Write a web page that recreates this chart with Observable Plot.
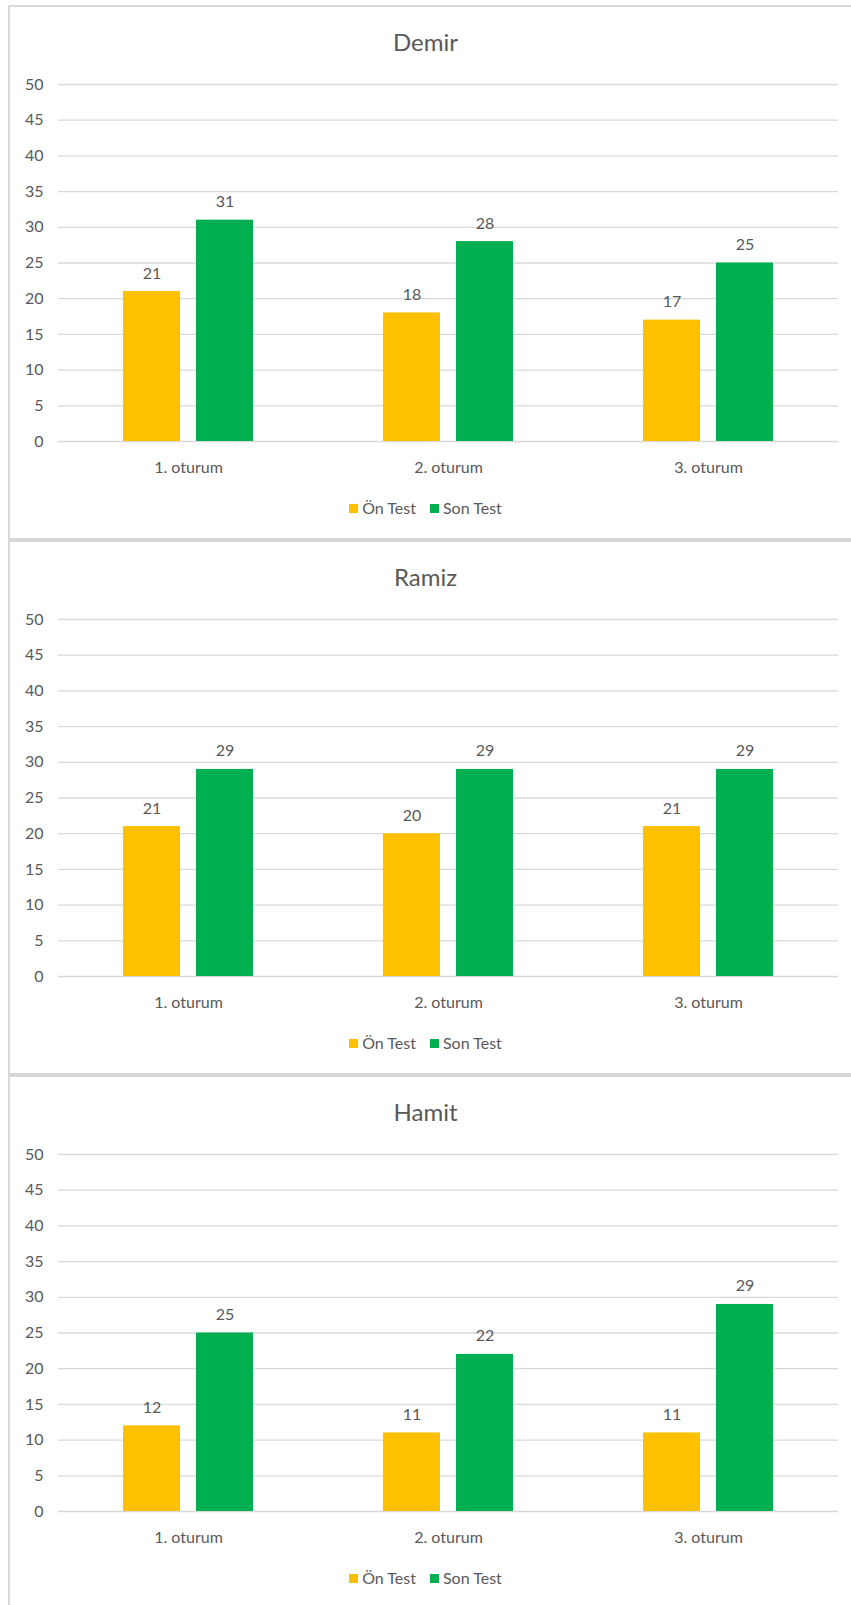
<!DOCTYPE html>
<html>
<head>
<meta charset="utf-8">
<script src="https://cdn.jsdelivr.net/npm/d3@7"></script>
<script src="https://cdn.jsdelivr.net/npm/@observablehq/plot@0.6"></script>
<style>
  html, body { margin: 0; padding: 0; background: #fff; }
  body { width: 851px; height: 1605px; position: relative; overflow: hidden; font-family: Lato, "Noto Sans", sans-serif; color: #595959; }
  .panel { position: absolute; left: 8px; width: 843px; height: 535px; border-left: 2px solid #d9d9d9; box-sizing: border-box; }
  .panel.first { border-top: 2px solid #dadada; }
  .panel.next { border-top: 4px solid #d6d6d6; }
  .title { position: absolute; left: 0; width: 851px; text-align: center; font-size: 24px; }
  .chart { position: absolute; left: 0; }
  .legend { position: absolute; left: 0; width: 851px; display: flex; justify-content: center; font-size: 16px; line-height: 18px; }
  .legend .item { display: flex; align-items: center; margin: 0 7px; }
  .legend .sw { width: 9px; height: 9px; margin-right: 4px; }
</style>
</head>
<body>
<script>
// Session categories, series names and scores per student
const categories = ["1. oturum", "2. oturum", "3. oturum"];
const series = ["Ön Test", "Son Test"];
const students = ["Demir", "Ramiz", "Hamit"];

const demirOn = [21, 18, 17];
const demirSon = [31, 28, 25];
const ramizOn = [21, 20, 21];
const ramizSon = [29, 29, 29];
const hamitOn = [12, 11, 11];
const hamitSon = [25, 22, 29];

const yTicks = [0, 5, 10, 15, 20, 25, 30, 35, 40, 45, 50];
const colors = ["#FFC000", "#00B050"];

const scores = {
  Demir: [demirOn, demirSon],
  Ramiz: [ramizOn, ramizSon],
  Hamit: [hamitOn, hamitSon]
};

const panelTop = [5, 540, 1075];

students.forEach((name, i) => {
  const top = panelTop[i];

  const panel = document.createElement("div");
  panel.className = "panel " + (i === 0 ? "first" : "next");
  panel.style.top = (top - (i === 0 ? 0 : 2)) + "px";
  document.body.appendChild(panel);

  const title = document.createElement("div");
  title.className = "title";
  title.textContent = name;
  title.style.top = (top + 22) + "px";
  document.body.appendChild(title);

  const rows = [];
  categories.forEach((c, ci) => {
    series.forEach((s, si) => {
      rows.push({oturum: c, test: s, value: scores[name][si][ci]});
    });
  });

  const chart = Plot.plot({
    width: 851,
    height: 426,
    marginLeft: 57,
    marginRight: 12,
    marginTop: 19,
    marginBottom: 50,
    style: {fontFamily: "Lato, 'Noto Sans', sans-serif", fontSize: "16px", color: "#595959", background: "transparent"},
    fx: {domain: categories, padding: 0, axis: null, label: null},
    x: {domain: series, paddingInner: 0.216, paddingOuter: 0.87, axis: null, label: null},
    y: {domain: [0, 50], label: null},
    color: {domain: series, range: colors},
    marks: [
      Plot.gridY(yTicks, {stroke: "#d9d9d9", strokeOpacity: 1, strokeWidth: 1.3}),
      Plot.axisY(yTicks, {tickSize: 0, tickPadding: 15, fontSize: 16, label: null}),
      Plot.axisFx({anchor: "bottom", tickSize: 0, tickPadding: 20, fontSize: 16, label: null}),
      Plot.barY(rows, {fx: "oturum", x: "test", y: "value", fill: "test"}),
      Plot.text(rows, {fx: "oturum", x: "test", y: "value", text: d => String(d.value), dy: -13, lineAnchor: "bottom", fill: "#595959", fontSize: 16})
    ]
  });
  chart.classList.add("chart");
  chart.style.top = (top + 60) + "px";
  document.body.appendChild(chart);

  const legend = document.createElement("div");
  legend.className = "legend";
  legend.style.top = (top + 494) + "px";
  series.forEach((s, si) => {
    const item = document.createElement("div");
    item.className = "item";
    const sw = document.createElement("span");
    sw.className = "sw";
    sw.style.background = colors[si];
    const label = document.createElement("span");
    label.textContent = s;
    item.appendChild(sw);
    item.appendChild(label);
    legend.appendChild(item);
  });
  document.body.appendChild(legend);
});
</script>
</body>
</html>
